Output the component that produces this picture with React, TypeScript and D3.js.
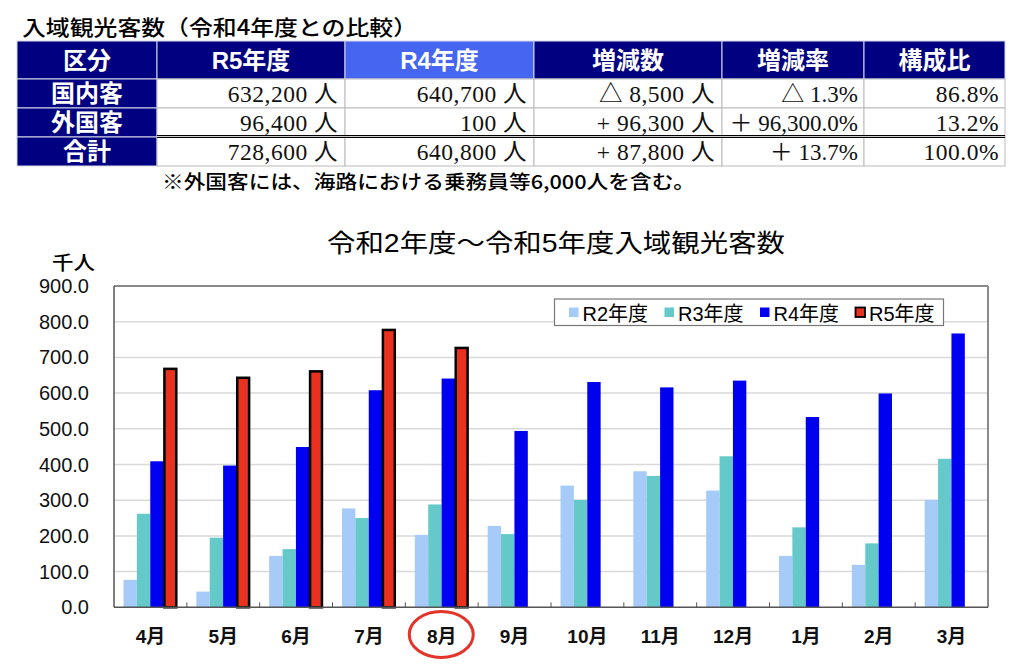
import React from "react";
import * as d3 from "d3";

const months = ["4月", "5月", "6月", "7月", "8月", "9月", "10月", "11月", "12月", "1月", "2月", "3月"];
const seriesNames = ["R2年度", "R3年度", "R4年度", "R5年度"];
const r2 = [77, 44, 144, 277, 203, 228, 341, 381, 327, 144, 119, 301];
const r3 = [262, 195, 163, 250, 288, 205, 301, 368, 423, 224, 179, 416];
const r4 = [409, 397, 449, 608, 640.8, 494, 631, 616, 635, 533, 599, 767];
const r5: (number | null)[] = [670, 645, 663, 779, 728.6, null, null, null, null, null, null, null];
const yTicks = [0, 100, 200, 300, 400, 500, 600, 700, 800, 900];

const tableHeaders = ["区分", "R5年度", "R4年度", "増減数", "増減率", "構成比"];
const rowLabels = ["国内客", "外国客", "合計"];
const colR5 = ["632,200 人", "96,400 人", "728,600 人"];
const colR4 = ["640,700 人", "100 人", "640,800 人"];
const colDiff = ["△ 8,500 人", "+ 96,300 人", "+ 87,800 人"];
const colRate = ["△ 1.3%", "＋ 96,300.0%", "＋ 13.7%"];
const colShare = ["86.8%", "13.2%", "100.0%"];

const colors = ["#a7cbf8", "#66c9c9", "#0000f0", "#e8321f"];

const SANS = "'Liberation Sans', 'Noto Sans CJK JP', sans-serif";
const JP = "'Noto Sans CJK JP', 'Liberation Sans', sans-serif";
const SERIF = "'Liberation Serif', 'Noto Sans CJK JP', serif";

export default function App() {
  const plot = { left: 114, right: 988, top: 286, bottom: 607.3 };
  const x = d3.scaleBand<string>().domain(months).range([plot.left, plot.right]).padding(0);
  const bw = x.bandwidth();
  const xs = d3.scaleBand<string>().domain(seriesNames).range([9.5, bw - 9.8]).padding(0);
  const y = d3.scaleLinear().domain([0, 900]).range([plot.bottom, plot.top]);
  const allSeries = [r2, r3, r4, r5];

  // table geometry
  const colX = [17, 157, 345, 534, 722, 864, 1005];
  const rowY = [41, 79, 108, 137, 166];
  const dataCols = [colR5, colR4, colDiff, colRate, colShare];

  return (
    <svg width={1024} height={670} style={{ position: "absolute", left: 0, top: 0, background: "#fff" }}>
      <rect x={0} y={0} width={1024} height={670} fill="#fff" />
      {/* Table title */}
      <text x={22} y={35} fontFamily={JP} fontSize={21} fontWeight={500} textLength={395} lengthAdjust="spacingAndGlyphs">
        入域観光客数（令和4年度との比較）
      </text>
      {/* Header row */}
      {tableHeaders.map((h, i) => (
        <g key={h}>
          <rect x={colX[i]} y={rowY[0]} width={colX[i + 1] - colX[i]} height={rowY[1] - rowY[0]}
            fill={i === 2 ? "#4666f2" : "#000080"} stroke="#d8d8e8" strokeWidth={1} />
          <text x={(colX[i] + colX[i + 1]) / 2} y={(rowY[0] + rowY[1]) / 2 + 8.5} textAnchor="middle"
            fill="#fff" fontFamily={SANS} fontSize={24} fontWeight={700}>{h}</text>
        </g>
      ))}
      {/* Body rows */}
      {rowLabels.map((r, ri) => (
        <g key={r}>
          <rect x={colX[0]} y={rowY[ri + 1]} width={colX[1] - colX[0]} height={rowY[ri + 2] - rowY[ri + 1]}
            fill="#000080" stroke="#d8d8e8" strokeWidth={1} />
          <text x={(colX[0] + colX[1]) / 2} y={(rowY[ri + 1] + rowY[ri + 2]) / 2 + 8.5} textAnchor="middle"
            fill="#fff" fontFamily={SANS} fontSize={24} fontWeight={700}>{r}</text>
          {dataCols.map((col, ci) => (
            <g key={ci}>
              <rect x={colX[ci + 1]} y={rowY[ri + 1]} width={colX[ci + 2] - colX[ci + 1]} height={rowY[ri + 2] - rowY[ri + 1]}
                fill="#fff" stroke="#bbbbbb" strokeWidth={1} />
              <text x={colX[ci + 2] - (ci === 3 || ci === 4 ? 6 : 7)} y={(rowY[ri + 1] + rowY[ri + 2]) / 2 + 8} textAnchor="end"
                fill="#111" fontFamily={SERIF} fontSize={ci === 3 ? 23 : 23.5} letterSpacing={ci === 3 ? 0 : 0.5}>{col[ri]}</text>
            </g>
          ))}
        </g>
      ))}
      {/* double line before total */}
      <line x1={colX[1]} x2={colX[6]} y1={rowY[3] - 1.5} y2={rowY[3] - 1.5} stroke="#000" strokeWidth={1.2} />
      <line x1={colX[1]} x2={colX[6]} y1={rowY[3] + 0.5} y2={rowY[3] + 0.5} stroke="#000" strokeWidth={1.2} />
      {/* footnote */}
      <text x={162} y={189} fontFamily={JP} fontSize={19} fontWeight={500} textLength={533} lengthAdjust="spacingAndGlyphs">
        ※外国客には、海路における乗務員等6,000人を含む。
      </text>

      {/* Chart title */}
      <text x={327} y={252} fontFamily={SANS} fontSize={25} textLength={458} lengthAdjust="spacingAndGlyphs">
        令和2年度～令和5年度入域観光客数
      </text>
      <text x={52} y={270} fontFamily={JP} fontSize={19} fontWeight={500} textLength={43} lengthAdjust="spacingAndGlyphs">千人</text>

      {/* grid */}
      {yTicks.map((t) => (
        <g key={t}>
          {t > 0 && t < 900 && (
            <line x1={plot.left} x2={plot.right} y1={y(t)} y2={y(t)} stroke="#d9d9d9" strokeWidth={1.5} />
          )}
          <text x={89} y={y(t) + 7} textAnchor="end" fontFamily={SANS} fontSize={20} fill="#111">
            {d3.format(".1f")(t)}
          </text>
        </g>
      ))}
      {/* plot frame */}
      <line x1={plot.left} x2={plot.right} y1={plot.top} y2={plot.top} stroke="#8a8a8a" strokeWidth={2} />
      <line x1={plot.right} x2={plot.right} y1={plot.top} y2={plot.bottom} stroke="#8a8a8a" strokeWidth={2} />

      {/* bars */}
      {months.map((m) => (
        <g key={m} transform={`translate(${x(m)},0)`}>
          {allSeries.map((s, si) => {
            const v = s[months.indexOf(m)];
            if (v == null) return null;
            const isR5 = si === 3;
            return (
              <rect key={si} x={(xs(seriesNames[si]) as number) + (isR5 ? 0.75 : 0)} y={y(v) + (isR5 ? 0.75 : 0)}
                width={xs.bandwidth() - (isR5 ? 1.5 : 0)} height={y(0) - y(v) - (isR5 ? 0.75 : 0)}
                fill={colors[si]} stroke={isR5 ? "#000" : "none"} strokeWidth={isR5 ? 2.5 : 0} />
            );
          })}
        </g>
      ))}

      {/* axes */}
      <line x1={plot.left} x2={plot.left} y1={plot.top} y2={plot.bottom} stroke="#555" strokeWidth={1.5} />
      <line x1={plot.left} x2={plot.right} y1={plot.bottom} y2={plot.bottom} stroke="#555" strokeWidth={1.5} />
      {months.map((m, i) => (
        i > 0 ? <line key={m} x1={x(m)} x2={x(m)} y1={plot.bottom} y2={plot.bottom - 5} stroke="#555" strokeWidth={1} /> : null
      ))}
      {months.map((m) => (
        <text key={m} x={(x(m) as number) + bw / 2} y={643} textAnchor="middle" fontFamily={SANS}
          fontSize={19} fontWeight={700} fill="#111">{m}</text>
      ))}
      {/* highlight circle */}
      <ellipse cx={(x("8月") as number) + bw / 2 - 0.5} cy={634.5} rx={32} ry={23} fill="none" stroke="#e3342a" strokeWidth={3} />

      {/* legend */}
      <rect x={554.5} y={299} width={389} height={26.5} fill="#fff" stroke="#777" strokeWidth={1.2} />
      {seriesNames.map((s, i) => (
        <g key={s} transform={`translate(${569 + i * 95.5},0)`}>
          <rect x={0} y={307.5} width={9.5} height={9.5} fill={colors[i]} stroke={i === 3 ? "#000" : "none"} strokeWidth={i === 3 ? 1.8 : 0} />
          <text x={13.5} y={320.5} fontFamily={SANS} fontSize={20}>{s}</text>
        </g>
      ))}
    </svg>
  );
}
